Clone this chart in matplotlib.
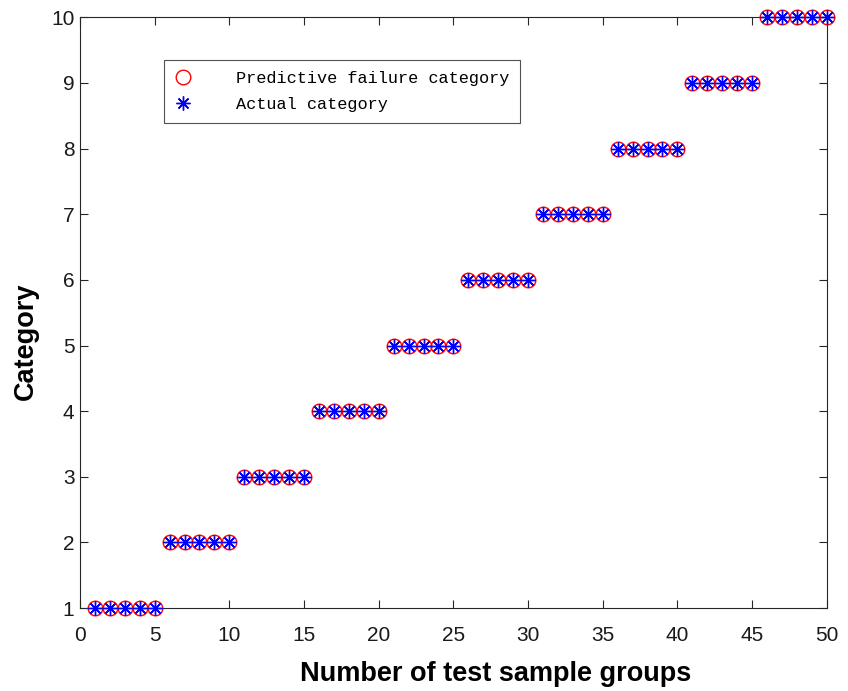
import matplotlib
matplotlib.use("Agg")
import matplotlib.pyplot as plt
import numpy as np

samples = list(range(1, 51))
predicted = [1]*5 + [2]*5 + [3]*5 + [4]*5 + [5]*5 + [6]*5 + [7]*5 + [8]*5 + [9]*5 + [10]*5
actual = [1]*5 + [2]*5 + [3]*5 + [4]*5 + [5]*5 + [6]*5 + [7]*5 + [8]*5 + [9]*5 + [10]*5
xticks = [0, 5, 10, 15, 20, 25, 30, 35, 40, 45, 50]
yticks = [1, 2, 3, 4, 5, 6, 7, 8, 9, 10]

plt.rcParams['font.family'] = ['Liberation Sans', 'DejaVu Sans']
fig = plt.figure(figsize=(8.48, 6.91), dpi=100)
ax = fig.add_axes([0.0943, 0.120, 0.8807, 0.855])

ax.plot(samples, predicted, linestyle='none', marker='o', markersize=10.5,
        markerfacecolor='none', markeredgecolor='red', markeredgewidth=1.0,
        label='Predictive failure category', clip_on=False, zorder=3)
ax.plot(samples, actual, linestyle='none', marker=(8, 2, 0), markersize=10,
        color='blue', markeredgewidth=1.0, label='Actual category', clip_on=False, zorder=4)

ax.set_xlim(0, 50)
ax.set_ylim(1, 10)
ax.set_xticks(xticks)
ax.set_yticks(yticks)
ax.tick_params(direction='in', length=6, labelsize=15, top=True, right=True, width=0.8,
               colors='#262626', labelcolor='#1a1a1a')
ax.tick_params(axis='x', pad=13)
ax.tick_params(axis='y', pad=4)
for s in ax.spines.values():
    s.set_color('#262626')
    s.set_linewidth(0.8)

ax.set_xlabel('Number of test sample groups', fontsize=19.5, fontweight='bold')
ax.xaxis.set_label_coords(0.556, -0.090)
ax.set_ylabel('Category', fontsize=19.5, fontweight='bold')
ax.yaxis.set_label_coords(-0.0555, 0.452)

leg = ax.legend(loc='upper left', bbox_to_anchor=(0.1124, 0.927), frameon=True, fancybox=False,
                edgecolor='#262626', prop={'family': ['Liberation Mono', 'DejaVu Sans Mono'], 'size': 12.2},
                handletextpad=2.65, borderpad=0.65, labelspacing=0.62, handlelength=0.95,
                borderaxespad=0)
leg.get_frame().set_linewidth(0.8)

fig.savefig('out.png', dpi=100)
